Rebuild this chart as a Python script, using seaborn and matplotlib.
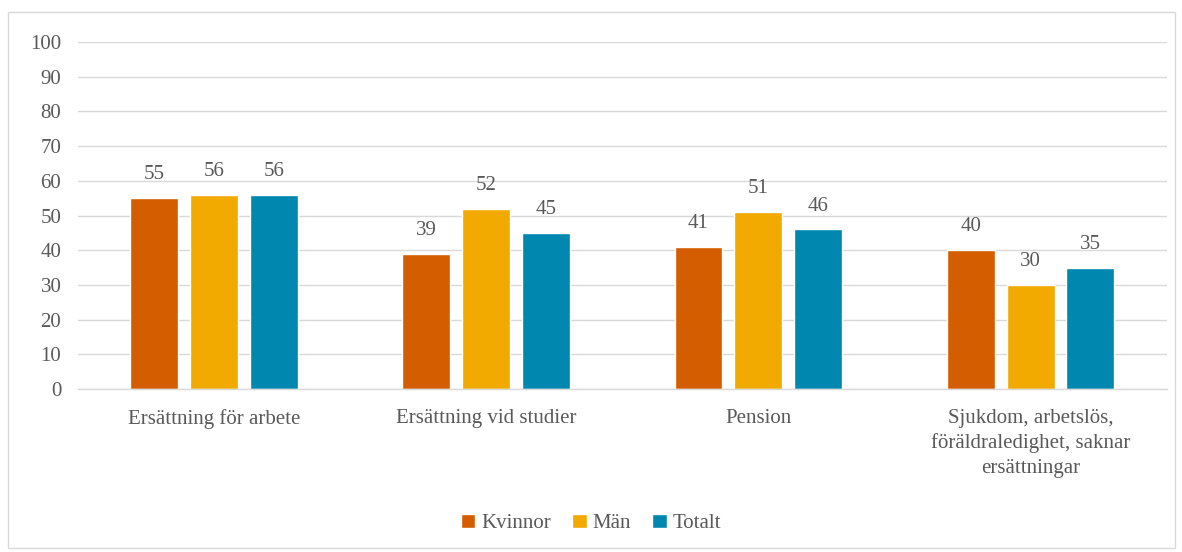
import pandas as pd
import matplotlib.pyplot as plt
import seaborn as sns
from matplotlib.patches import Rectangle

categories = [
    "Ersättning för arbete",
    "Ersättning vid studier",
    "Pension",
    "Sjukdom, arbetslös,\nföräldraledighet, saknar\nersättningar",
]
kvinnor = [55, 39, 41, 40]
man = [56, 52, 51, 30]
totalt = [56, 45, 46, 35]
series = ["Kvinnor", "Män", "Totalt"]
colors = ["#D45D00", "#F2A900", "#0087B0"]

df = pd.DataFrame({
    "kategori": categories * 3,
    "grupp": [s for s in series for _ in categories],
    "varde": kvinnor + man + totalt,
})

sns.set_style("white")
plt.rcParams["font.family"] = ["Liberation Serif", "DejaVu Serif"]
TXT = "#595959"
FS = 15

fig = plt.figure(figsize=(11.82, 5.52), dpi=100)
ax = fig.add_axes([0.066, 0.295, 0.921, 0.629])

sns.barplot(
    data=df, x="kategori", y="varde", hue="grupp", order=categories,
    hue_order=series, palette=colors, width=0.66, gap=0.2,
    saturation=1, ax=ax, legend=True,
)

for cont in ax.containers:
    ax.bar_label(cont, padding=10, fontsize=FS, color=TXT)

ax.set_ylim(0, 100)
ax.set_yticks(range(0, 101, 10))
ax.yaxis.grid(True, color="#D9D9D9", linewidth=1)
ax.set_axisbelow(True)
for s in ["top", "right", "left"]:
    ax.spines[s].set_visible(False)
ax.spines["bottom"].set_color("#D9D9D9")
ax.spines["bottom"].set_linewidth(1)
ax.tick_params(axis="both", length=0, labelsize=FS, labelcolor=TXT)
ax.tick_params(axis="y", pad=12)
ax.tick_params(axis="x", pad=14)
for lbl in ax.get_xticklabels():
    lbl.set_linespacing(1.4)
ax.set_xlabel("")
ax.set_ylabel("")

handles, labels = ax.get_legend_handles_labels()
ax.legend(
    handles, labels, loc="center", bbox_to_anchor=(0.5, 0.052),
    bbox_transform=fig.transFigure, ncol=3, frameon=False,
    fontsize=FS, labelcolor=TXT, handlelength=0.7, handleheight=0.7,
    handletextpad=0.3, columnspacing=1.0,
)

fig.patches.append(Rectangle(
    (8 / 1182, 4 / 552), 1167 / 1182, 536 / 552, transform=fig.transFigure,
    fill=False, edgecolor="#D9D9D9", linewidth=1,
))

fig.savefig("out.png", dpi=100)
